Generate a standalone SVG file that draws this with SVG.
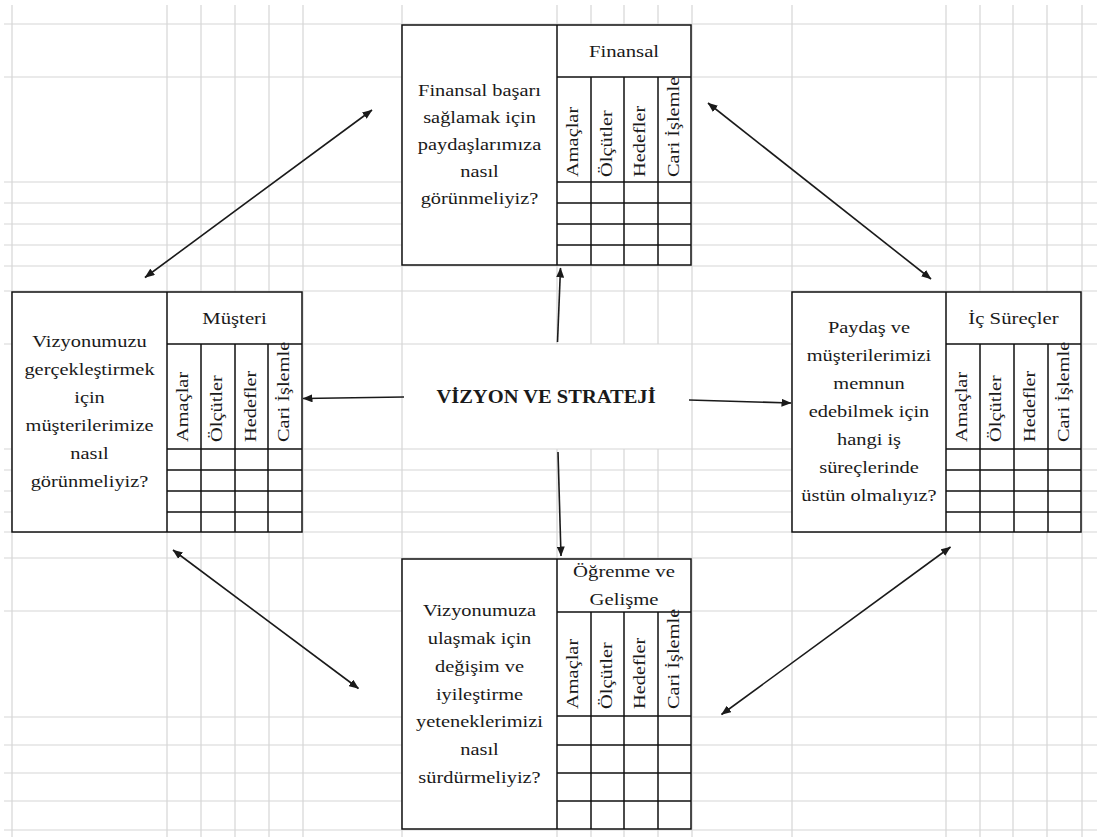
<svg xmlns="http://www.w3.org/2000/svg" width="1097" height="837" viewBox="0 0 1097 837">
<style>
.grid{fill:none;stroke:#d6d6d6;stroke-width:1.2}
.box{fill:#fff;stroke:#111;stroke-width:1.5}
.ln{fill:none;stroke:#111;stroke-width:1.5}
.q,.h,.v,.t{font-family:"Liberation Serif","Times New Roman",serif;fill:#1a1a1a}
.q{font-size:17px;text-anchor:middle}
.h{font-size:17px;text-anchor:middle}
.v{font-size:17px;text-anchor:start}
.t{font-size:19px;font-weight:bold;text-anchor:middle}
.conn{fill:none;stroke:#1a1a1a;stroke-width:1.6}
</style>
<defs>
<marker id="ah" viewBox="0 0 10 8" refX="9.5" refY="4" markerWidth="10" markerHeight="8" markerUnits="userSpaceOnUse" orient="auto-start-reverse">
<path d="M0,0 L10,4 L0,8 z" fill="#1a1a1a"/>
</marker>
</defs>
<rect width="1097" height="837" fill="#fff"/>
<g id="grid">
<path class="grid" d="M12 5V837 M167 5V837 M201 5V837 M235 5V837 M269 5V837 M303 5V837 M402 5V837 M557 5V344 M557 449V837 M591 5V344 M591 449V837 M624 5V344 M624 449V837 M658 5V344 M658 449V837 M692 5V837 M792 5V837 M946 5V837 M980 5V837 M1013 5V837 M1047 5V837 M1082 5V837"/>
<path class="grid" d="M4 24H1097 M4 77H1097 M4 182H1097 M4 203H1097 M4 224H1097 M4 245H1097 M4 266H1097 M4 291H1097 M4 344H1097 M4 449H1097 M4 470H1097 M4 491H1097 M4 512H1097 M4 532H1097 M4 558H1097 M4 611H1097 M4 717H1097 M4 745H1097 M4 773H1097 M4 801H1097 M4 830H1097"/>
</g>
<g id="center">
<text class="t" transform="translate(546,403) scale(1.08,1)">VİZYON VE STRATEJİ</text>
</g>
<g id="finansal">
<rect class="box" x="402" y="25" width="289" height="240"/>
<path class="ln" d="M557 25V265 M557 77H691 M591 77V265 M624 77V265 M658 77V265 M557 182H691 M557 203H691 M557 224H691 M557 245H691"/>
<text class="h" transform="translate(624,57) scale(1.22,1)">Finansal</text>
<text class="q" transform="translate(479.5,96) scale(1.2,1)">Finansal başarı</text>
<text class="q" transform="translate(479.5,123) scale(1.2,1)">sağlamak için</text>
<text class="q" transform="translate(479.5,150) scale(1.2,1)">paydaşlarımıza</text>
<text class="q" transform="translate(479.5,177) scale(1.2,1)">nasıl</text>
<text class="q" transform="translate(479.5,204) scale(1.2,1)">görünmeliyiz?</text>
<text class="v" transform="translate(578,177) rotate(-90) scale(1.2,1)">Amaçlar</text>
<text class="v" transform="translate(612,177) rotate(-90) scale(1.2,1)">Ölçütler</text>
<text class="v" transform="translate(645,177) rotate(-90) scale(1.2,1)">Hedefler</text>
<text class="v" transform="translate(679,177) rotate(-90) scale(1.2,1)">Cari İşlemle</text>
</g>
<g id="musteri">
<rect class="box" x="12" y="292" width="290" height="240"/>
<path class="ln" d="M167 292V532 M167 344H302 M201 344V532 M235 344V532 M268 344V532 M167 449H302 M167 470H302 M167 491H302 M167 512H302"/>
<text class="h" transform="translate(234.5,324) scale(1.22,1)">Müşteri</text>
<text class="q" transform="translate(89.5,347) scale(1.2,1)">Vizyonumuzu</text>
<text class="q" transform="translate(89.5,375) scale(1.2,1)">gerçekleştirmek</text>
<text class="q" transform="translate(89.5,403) scale(1.2,1)">için</text>
<text class="q" transform="translate(89.5,431) scale(1.2,1)">müşterilerimize</text>
<text class="q" transform="translate(89.5,459) scale(1.2,1)">nasıl</text>
<text class="q" transform="translate(89.5,487) scale(1.2,1)">görünmeliyiz?</text>
<text class="v" transform="translate(188,442) rotate(-90) scale(1.2,1)">Amaçlar</text>
<text class="v" transform="translate(222,442) rotate(-90) scale(1.2,1)">Ölçütler</text>
<text class="v" transform="translate(256,442) rotate(-90) scale(1.2,1)">Hedefler</text>
<text class="v" transform="translate(289,442) rotate(-90) scale(1.2,1)">Cari İşlemle</text>
</g>
<g id="ic-surecler">
<rect class="box" x="792" y="292" width="289" height="240"/>
<path class="ln" d="M946 292V532 M946 344H1081 M980 344V532 M1014 344V532 M1048 344V532 M946 449H1081 M946 470H1081 M946 491H1081 M946 512H1081"/>
<text class="h" transform="translate(1013.5,324) scale(1.22,1)">İç Süreçler</text>
<text class="q" transform="translate(869,333) scale(1.2,1)">Paydaş ve</text>
<text class="q" transform="translate(869,361) scale(1.2,1)">müşterilerimizi</text>
<text class="q" transform="translate(869,389) scale(1.2,1)">memnun</text>
<text class="q" transform="translate(869,417) scale(1.2,1)">edebilmek için</text>
<text class="q" transform="translate(869,445) scale(1.2,1)">hangi iş</text>
<text class="q" transform="translate(869,473) scale(1.2,1)">süreçlerinde</text>
<text class="q" transform="translate(869,501) scale(1.2,1)">üstün olmalıyız?</text>
<text class="v" transform="translate(967,442) rotate(-90) scale(1.2,1)">Amaçlar</text>
<text class="v" transform="translate(1001,442) rotate(-90) scale(1.2,1)">Ölçütler</text>
<text class="v" transform="translate(1035,442) rotate(-90) scale(1.2,1)">Hedefler</text>
<text class="v" transform="translate(1069,442) rotate(-90) scale(1.2,1)">Cari İşlemle</text>
</g>
<g id="ogrenme">
<rect class="box" x="402" y="559" width="289" height="270"/>
<path class="ln" d="M557 559V829 M557 612H691 M591 612V829 M624 612V829 M658 612V829 M557 716H691 M557 745H691 M557 773H691 M557 801H691"/>
<text class="h" transform="translate(624,577) scale(1.22,1)">Öğrenme ve</text>
<text class="h" transform="translate(624,605) scale(1.22,1)">Gelişme</text>
<text class="q" transform="translate(479.5,616) scale(1.2,1)">Vizyonumuza</text>
<text class="q" transform="translate(479.5,644) scale(1.2,1)">ulaşmak için</text>
<text class="q" transform="translate(479.5,672) scale(1.2,1)">değişim ve</text>
<text class="q" transform="translate(479.5,699.5) scale(1.2,1)">iyileştirme</text>
<text class="q" transform="translate(479.5,727) scale(1.2,1)">yeteneklerimizi</text>
<text class="q" transform="translate(479.5,755) scale(1.2,1)">nasıl</text>
<text class="q" transform="translate(479.5,783) scale(1.2,1)">sürdürmeliyiz?</text>
<text class="v" transform="translate(578,709) rotate(-90) scale(1.2,1)">Amaçlar</text>
<text class="v" transform="translate(612,709) rotate(-90) scale(1.2,1)">Ölçütler</text>
<text class="v" transform="translate(645,709) rotate(-90) scale(1.2,1)">Hedefler</text>
<text class="v" transform="translate(679,709) rotate(-90) scale(1.2,1)">Cari İşlemle</text>
</g>
<g id="connectors">
<line class="conn" x1="557.5" y1="342" x2="560.5" y2="268" marker-end="url(#ah)"/>
<line class="conn" x1="404" y1="397" x2="303" y2="398.5" marker-end="url(#ah)"/>
<line class="conn" x1="689" y1="400" x2="791" y2="403" marker-end="url(#ah)"/>
<line class="conn" x1="558" y1="452" x2="561" y2="556" marker-end="url(#ah)"/>
<line class="conn" x1="145" y1="277.5" x2="372" y2="110" marker-start="url(#ah)" marker-end="url(#ah)"/>
<line class="conn" x1="708" y1="103" x2="931" y2="279" marker-start="url(#ah)" marker-end="url(#ah)"/>
<line class="conn" x1="173" y1="550" x2="358.5" y2="688.5" marker-start="url(#ah)" marker-end="url(#ah)"/>
<line class="conn" x1="950.5" y1="547" x2="721.5" y2="714.5" marker-start="url(#ah)" marker-end="url(#ah)"/>
</g>
</svg>
